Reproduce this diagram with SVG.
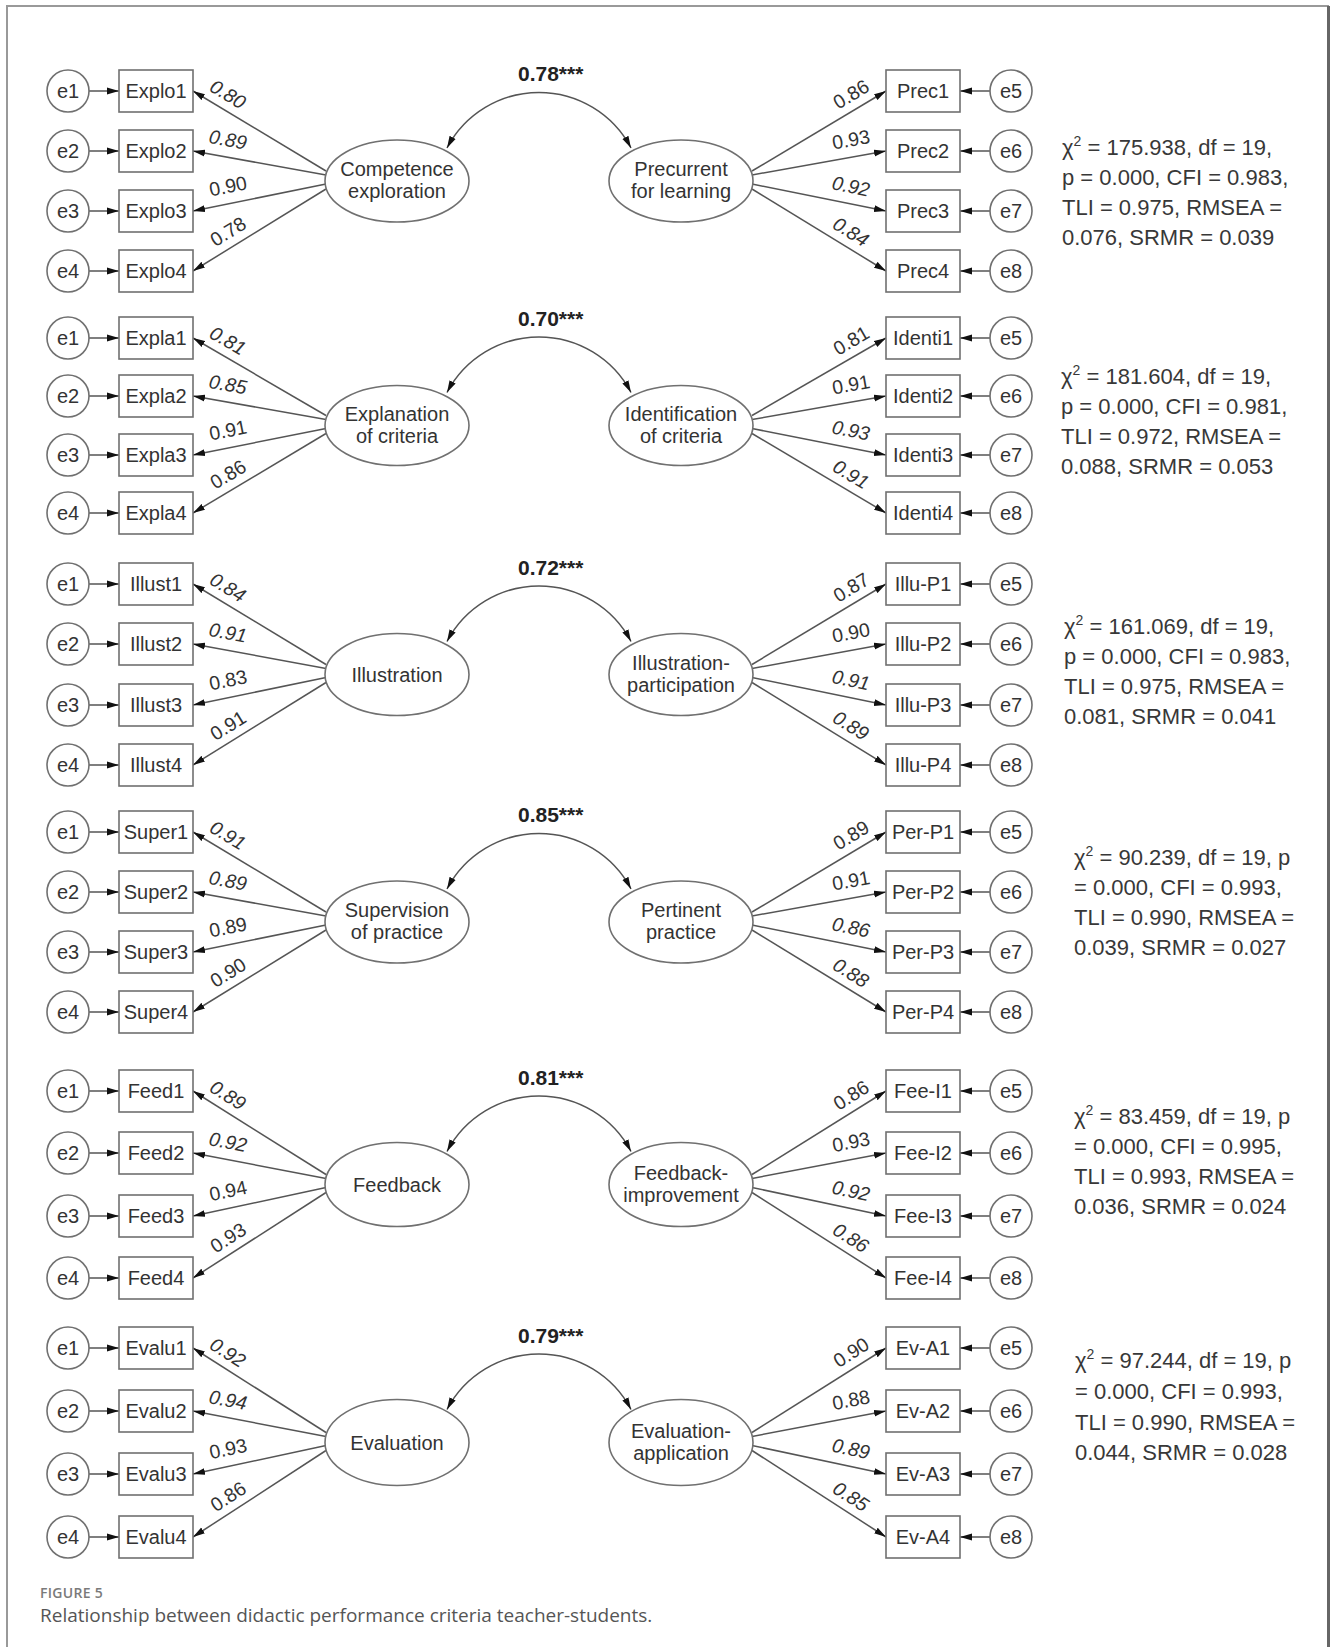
<svg xmlns="http://www.w3.org/2000/svg" width="1330" height="1647" viewBox="0 0 1330 1647">
  <defs>
    <style>
      .ec, .bx, .lat { fill: #ffffff; stroke: #707070; stroke-width: 1.6; }
      .t { font-family: "Liberation Sans", Arial, sans-serif; font-size: 20px; fill: #333333; text-anchor: middle; }
      .ld { font-family: "Liberation Sans", Arial, sans-serif; font-size: 19.5px; fill: #333333; text-anchor: middle; }
      .i { font-style: italic; }
      .corr { font-family: "Liberation Sans", Arial, sans-serif; font-size: 21px; font-weight: bold; fill: #222222; }
      .fit { font-family: "Liberation Sans", Arial, sans-serif; font-size: 22px; fill: #383838; }
      #connectors line, #connectors path { stroke: #555555; stroke-width: 1.5; fill: none; }
      .cap1 { font-family: "Open Sans", "Liberation Sans", sans-serif; font-size: 14px; font-weight: 600; fill: #7a7a7a; letter-spacing: 0.3px; }
      .cap2 { font-family: "Open Sans", "Liberation Sans", sans-serif; font-size: 19px; fill: #555555; }
    </style>
    <marker id="ah" viewBox="0 0 12 8" refX="12" refY="4" markerWidth="12" markerHeight="8" markerUnits="userSpaceOnUse" orient="auto">
      <path d="M0,0.6 L12,4 L0,7.4 Z" fill="#111111"/>
    </marker>
    <marker id="ah2" viewBox="0 0 12 8" refX="12" refY="4" markerWidth="12" markerHeight="8" markerUnits="userSpaceOnUse" orient="auto-start-reverse">
      <path d="M0,0.6 L12,4 L0,7.4 Z" fill="#111111"/>
    </marker>
  </defs>

  <rect width="1330" height="1647" fill="#ffffff"/>
  <!-- outer frame -->
  <path d="M7,1647 V6 H1329" fill="none" stroke="#999999" stroke-width="2"/>
  <line x1="1328.5" y1="6" x2="1328.5" y2="1647" stroke="#666666" stroke-width="3"/>

  <!-- ===== connectors ===== -->
  <g id="connectors" marker-end="url(#ah)">
    <!-- panel 1 -->
    <line x1="89" y1="91" x2="119" y2="91"/><line x1="89" y1="151" x2="119" y2="151"/><line x1="89" y1="211" x2="119" y2="211"/><line x1="89" y1="271" x2="119" y2="271"/>
    <line x1="990" y1="91" x2="960" y2="91"/><line x1="990" y1="151" x2="960" y2="151"/><line x1="990" y1="211" x2="960" y2="211"/><line x1="990" y1="271" x2="960" y2="271"/>
    <line x1="326" y1="171" x2="193" y2="91"/><line x1="326" y1="175" x2="193" y2="151"/><line x1="326" y1="184" x2="193" y2="211"/><line x1="326" y1="189" x2="193" y2="271"/>
    <line x1="752" y1="171" x2="886" y2="91"/><line x1="752" y1="175" x2="886" y2="151"/><line x1="752" y1="184" x2="886" y2="211"/><line x1="752" y1="189" x2="886" y2="271"/>
    <path d="M447,148 A104,104 0 0 1 631,148" marker-start="url(#ah2)" marker-end="url(#ah2)"/>
    <!-- panel 2 -->
    <line x1="89" y1="338" x2="119" y2="338"/><line x1="89" y1="396" x2="119" y2="396"/><line x1="89" y1="455" x2="119" y2="455"/><line x1="89" y1="513" x2="119" y2="513"/>
    <line x1="990" y1="338" x2="960" y2="338"/><line x1="990" y1="396" x2="960" y2="396"/><line x1="990" y1="455" x2="960" y2="455"/><line x1="990" y1="513" x2="960" y2="513"/>
    <line x1="326" y1="415.5" x2="193" y2="338"/><line x1="326" y1="419.5" x2="193" y2="396"/><line x1="326" y1="428.5" x2="193" y2="455"/><line x1="326" y1="433.5" x2="193" y2="513"/>
    <line x1="752" y1="415.5" x2="886" y2="338"/><line x1="752" y1="419.5" x2="886" y2="396"/><line x1="752" y1="428.5" x2="886" y2="455"/><line x1="752" y1="433.5" x2="886" y2="513"/>
    <path d="M447,392.5 A104,104 0 0 1 631,392.5" marker-start="url(#ah2)" marker-end="url(#ah2)"/>
    <!-- panel 3 -->
    <line x1="89" y1="584" x2="119" y2="584"/><line x1="89" y1="644" x2="119" y2="644"/><line x1="89" y1="705" x2="119" y2="705"/><line x1="89" y1="765" x2="119" y2="765"/>
    <line x1="990" y1="584" x2="960" y2="584"/><line x1="990" y1="644" x2="960" y2="644"/><line x1="990" y1="705" x2="960" y2="705"/><line x1="990" y1="765" x2="960" y2="765"/>
    <line x1="326" y1="664.5" x2="193" y2="584"/><line x1="326" y1="668.5" x2="193" y2="644"/><line x1="326" y1="677.5" x2="193" y2="705"/><line x1="326" y1="682.5" x2="193" y2="765"/>
    <line x1="752" y1="664.5" x2="886" y2="584"/><line x1="752" y1="668.5" x2="886" y2="644"/><line x1="752" y1="677.5" x2="886" y2="705"/><line x1="752" y1="682.5" x2="886" y2="765"/>
    <path d="M447,641.5 A104,104 0 0 1 631,641.5" marker-start="url(#ah2)" marker-end="url(#ah2)"/>
    <!-- panel 4 -->
    <line x1="89" y1="832" x2="119" y2="832"/><line x1="89" y1="892" x2="119" y2="892"/><line x1="89" y1="952" x2="119" y2="952"/><line x1="89" y1="1012" x2="119" y2="1012"/>
    <line x1="990" y1="832" x2="960" y2="832"/><line x1="990" y1="892" x2="960" y2="892"/><line x1="990" y1="952" x2="960" y2="952"/><line x1="990" y1="1012" x2="960" y2="1012"/>
    <line x1="326" y1="912" x2="193" y2="832"/><line x1="326" y1="916" x2="193" y2="892"/><line x1="326" y1="925" x2="193" y2="952"/><line x1="326" y1="930" x2="193" y2="1012"/>
    <line x1="752" y1="912" x2="886" y2="832"/><line x1="752" y1="916" x2="886" y2="892"/><line x1="752" y1="925" x2="886" y2="952"/><line x1="752" y1="930" x2="886" y2="1012"/>
    <path d="M447,889 A104,104 0 0 1 631,889" marker-start="url(#ah2)" marker-end="url(#ah2)"/>
    <!-- panel 5 -->
    <line x1="89" y1="1091" x2="119" y2="1091"/><line x1="89" y1="1153" x2="119" y2="1153"/><line x1="89" y1="1216" x2="119" y2="1216"/><line x1="89" y1="1278" x2="119" y2="1278"/>
    <line x1="990" y1="1091" x2="960" y2="1091"/><line x1="990" y1="1153" x2="960" y2="1153"/><line x1="990" y1="1216" x2="960" y2="1216"/><line x1="990" y1="1278" x2="960" y2="1278"/>
    <line x1="326" y1="1174.5" x2="193" y2="1091"/><line x1="326" y1="1178.5" x2="193" y2="1153"/><line x1="326" y1="1187.5" x2="193" y2="1216"/><line x1="326" y1="1192.5" x2="193" y2="1278"/>
    <line x1="752" y1="1174.5" x2="886" y2="1091"/><line x1="752" y1="1178.5" x2="886" y2="1153"/><line x1="752" y1="1187.5" x2="886" y2="1216"/><line x1="752" y1="1192.5" x2="886" y2="1278"/>
    <path d="M447,1151.5 A104,104 0 0 1 631,1151.5" marker-start="url(#ah2)" marker-end="url(#ah2)"/>
    <!-- panel 6 -->
    <line x1="89" y1="1348" x2="119" y2="1348"/><line x1="89" y1="1411" x2="119" y2="1411"/><line x1="89" y1="1474" x2="119" y2="1474"/><line x1="89" y1="1537" x2="119" y2="1537"/>
    <line x1="990" y1="1348" x2="960" y2="1348"/><line x1="990" y1="1411" x2="960" y2="1411"/><line x1="990" y1="1474" x2="960" y2="1474"/><line x1="990" y1="1537" x2="960" y2="1537"/>
    <line x1="326" y1="1432.5" x2="193" y2="1348"/><line x1="326" y1="1436.5" x2="193" y2="1411"/><line x1="326" y1="1445.5" x2="193" y2="1474"/><line x1="326" y1="1450.5" x2="193" y2="1537"/>
    <line x1="752" y1="1432.5" x2="886" y2="1348"/><line x1="752" y1="1436.5" x2="886" y2="1411"/><line x1="752" y1="1445.5" x2="886" y2="1474"/><line x1="752" y1="1450.5" x2="886" y2="1537"/>
    <path d="M447,1409.5 A104,104 0 0 1 631,1409.5" marker-start="url(#ah2)" marker-end="url(#ah2)"/>
  </g>

  <!-- ===== path coefficients and correlations ===== -->
  <g id="edge-labels">
    <!-- panel 1 -->
    <text class="corr" x="518" y="81">0.78***</text>
    <text class="ld i" transform="translate(228 94) rotate(31)" y="7">0.80</text>
    <text class="ld i" transform="translate(228 139.3) rotate(10.2)" y="7">0.89</text>
    <text class="ld" transform="translate(228 185.9) rotate(-11.5)" y="7">0.90</text>
    <text class="ld" transform="translate(228 231.4) rotate(-31.7)" y="7">0.78</text>
    <text class="ld" transform="translate(851 94) rotate(-31)" y="7">0.86</text>
    <text class="ld" transform="translate(851 139.3) rotate(-10.2)" y="7">0.93</text>
    <text class="ld i" transform="translate(851 185.9) rotate(11.5)" y="7">0.92</text>
    <text class="ld i" transform="translate(851 231.4) rotate(31.7)" y="7">0.84</text>
    <!-- panel 2 -->
    <text class="corr" x="518" y="325.5">0.70***</text>
    <text class="ld i" transform="translate(228 340.4) rotate(30.2)" y="7">0.81</text>
    <text class="ld i" transform="translate(228 384.2) rotate(10)" y="7">0.85</text>
    <text class="ld" transform="translate(228 430) rotate(-11.3)" y="7">0.91</text>
    <text class="ld" transform="translate(228 474.1) rotate(-30.9)" y="7">0.86</text>
    <text class="ld" transform="translate(851 340.4) rotate(-30.2)" y="7">0.81</text>
    <text class="ld" transform="translate(851 384.2) rotate(-10)" y="7">0.91</text>
    <text class="ld i" transform="translate(851 430) rotate(11.3)" y="7">0.93</text>
    <text class="ld i" transform="translate(851 474.1) rotate(30.9)" y="7">0.91</text>
    <!-- panel 3 -->
    <text class="corr" x="518" y="574.5">0.72***</text>
    <text class="ld i" transform="translate(228 587.2) rotate(31.2)" y="7">0.84</text>
    <text class="ld i" transform="translate(228 632.4) rotate(10.4)" y="7">0.91</text>
    <text class="ld" transform="translate(228 679.8) rotate(-11.7)" y="7">0.83</text>
    <text class="ld" transform="translate(228 725.3) rotate(-31.8)" y="7">0.91</text>
    <text class="ld" transform="translate(851 587.2) rotate(-31.2)" y="7">0.87</text>
    <text class="ld" transform="translate(851 632.4) rotate(-10.4)" y="7">0.90</text>
    <text class="ld i" transform="translate(851 679.8) rotate(11.7)" y="7">0.91</text>
    <text class="ld i" transform="translate(851 725.3) rotate(31.8)" y="7">0.89</text>
    <!-- panel 4 -->
    <text class="corr" x="518" y="822">0.85***</text>
    <text class="ld i" transform="translate(228 835) rotate(31)" y="7">0.91</text>
    <text class="ld i" transform="translate(228 880.3) rotate(10.2)" y="7">0.89</text>
    <text class="ld" transform="translate(228 926.9) rotate(-11.5)" y="7">0.89</text>
    <text class="ld" transform="translate(228 972.4) rotate(-31.7)" y="7">0.90</text>
    <text class="ld" transform="translate(851 835) rotate(-31)" y="7">0.89</text>
    <text class="ld" transform="translate(851 880.3) rotate(-10.2)" y="7">0.91</text>
    <text class="ld i" transform="translate(851 926.9) rotate(11.5)" y="7">0.86</text>
    <text class="ld i" transform="translate(851 972.4) rotate(31.7)" y="7">0.88</text>
    <!-- panel 5 -->
    <text class="corr" x="518" y="1084.5">0.81***</text>
    <text class="ld i" transform="translate(228 1095) rotate(32.1)" y="7">0.89</text>
    <text class="ld i" transform="translate(228 1141.7) rotate(10.9)" y="7">0.92</text>
    <text class="ld" transform="translate(228 1190.5) rotate(-12.1)" y="7">0.94</text>
    <text class="ld" transform="translate(228 1237.5) rotate(-32.7)" y="7">0.93</text>
    <text class="ld" transform="translate(851 1095) rotate(-32.1)" y="7">0.86</text>
    <text class="ld" transform="translate(851 1141.7) rotate(-10.9)" y="7">0.93</text>
    <text class="ld i" transform="translate(851 1190.5) rotate(12.1)" y="7">0.92</text>
    <text class="ld i" transform="translate(851 1237.5) rotate(32.7)" y="7">0.86</text>
    <!-- panel 6 -->
    <text class="corr" x="518" y="1342.5">0.79***</text>
    <text class="ld i" transform="translate(228 1352.2) rotate(32.4)" y="7">0.92</text>
    <text class="ld i" transform="translate(228 1399.7) rotate(10.9)" y="7">0.94</text>
    <text class="ld" transform="translate(228 1448.5) rotate(-12.1)" y="7">0.93</text>
    <text class="ld" transform="translate(228 1496.2) rotate(-33)" y="7">0.86</text>
    <text class="ld" transform="translate(851 1352.2) rotate(-32.4)" y="7">0.90</text>
    <text class="ld" transform="translate(851 1399.7) rotate(-10.9)" y="7">0.88</text>
    <text class="ld i" transform="translate(851 1448.5) rotate(12.1)" y="7">0.89</text>
    <text class="ld i" transform="translate(851 1496.2) rotate(33)" y="7">0.85</text>
  </g>

  <!-- ===== panel 1: Competence exploration / Precurrent for learning ===== -->
  <g id="p1-e1"><circle class="ec" cx="68" cy="91" r="21"/><text class="t" x="68" y="98">e1</text></g>
  <g id="p1-e2"><circle class="ec" cx="68" cy="151" r="21"/><text class="t" x="68" y="158">e2</text></g>
  <g id="p1-e3"><circle class="ec" cx="68" cy="211" r="21"/><text class="t" x="68" y="218">e3</text></g>
  <g id="p1-e4"><circle class="ec" cx="68" cy="271" r="21"/><text class="t" x="68" y="278">e4</text></g>
  <g id="p1-explo1"><rect class="bx" x="119" y="70" width="74" height="42"/><text class="t" x="156" y="98">Explo1</text></g>
  <g id="p1-explo2"><rect class="bx" x="119" y="130" width="74" height="42"/><text class="t" x="156" y="158">Explo2</text></g>
  <g id="p1-explo3"><rect class="bx" x="119" y="190" width="74" height="42"/><text class="t" x="156" y="218">Explo3</text></g>
  <g id="p1-explo4"><rect class="bx" x="119" y="250" width="74" height="42"/><text class="t" x="156" y="278">Explo4</text></g>
  <g id="p1-competence"><ellipse class="lat" cx="397" cy="181" rx="72" ry="41"/><text class="t" x="397" y="176">Competence</text><text class="t" x="397" y="198">exploration</text></g>
  <g id="p1-precurrent"><ellipse class="lat" cx="681" cy="181" rx="72" ry="41"/><text class="t" x="681" y="176">Precurrent</text><text class="t" x="681" y="198">for learning</text></g>
  <g id="p1-prec1"><rect class="bx" x="886" y="70" width="74" height="42"/><text class="t" x="923" y="98">Prec1</text></g>
  <g id="p1-prec2"><rect class="bx" x="886" y="130" width="74" height="42"/><text class="t" x="923" y="158">Prec2</text></g>
  <g id="p1-prec3"><rect class="bx" x="886" y="190" width="74" height="42"/><text class="t" x="923" y="218">Prec3</text></g>
  <g id="p1-prec4"><rect class="bx" x="886" y="250" width="74" height="42"/><text class="t" x="923" y="278">Prec4</text></g>
  <g id="p1-e5"><circle class="ec" cx="1011" cy="91" r="21"/><text class="t" x="1011" y="98">e5</text></g>
  <g id="p1-e6"><circle class="ec" cx="1011" cy="151" r="21"/><text class="t" x="1011" y="158">e6</text></g>
  <g id="p1-e7"><circle class="ec" cx="1011" cy="211" r="21"/><text class="t" x="1011" y="218">e7</text></g>
  <g id="p1-e8"><circle class="ec" cx="1011" cy="271" r="21"/><text class="t" x="1011" y="278">e8</text></g>
  <g id="p1-fit" class="fit">
    <text x="1062" y="155">χ<tspan font-size="14" dy="-9">2</tspan><tspan dy="9"> = 175.938, df = 19,</tspan></text>
    <text x="1062" y="185">p = 0.000, CFI = 0.983,</text>
    <text x="1062" y="215">TLI = 0.975, RMSEA =</text>
    <text x="1062" y="245">0.076, SRMR = 0.039</text>
  </g>

  <!-- ===== panel 2: Explanation of criteria / Identification of criteria ===== -->
  <g id="p2-e1"><circle class="ec" cx="68" cy="338" r="21"/><text class="t" x="68" y="345">e1</text></g>
  <g id="p2-e2"><circle class="ec" cx="68" cy="396" r="21"/><text class="t" x="68" y="403">e2</text></g>
  <g id="p2-e3"><circle class="ec" cx="68" cy="455" r="21"/><text class="t" x="68" y="462">e3</text></g>
  <g id="p2-e4"><circle class="ec" cx="68" cy="513" r="21"/><text class="t" x="68" y="520">e4</text></g>
  <g id="p2-expla1"><rect class="bx" x="119" y="317" width="74" height="42"/><text class="t" x="156" y="345">Expla1</text></g>
  <g id="p2-expla2"><rect class="bx" x="119" y="375" width="74" height="42"/><text class="t" x="156" y="403">Expla2</text></g>
  <g id="p2-expla3"><rect class="bx" x="119" y="434" width="74" height="42"/><text class="t" x="156" y="462">Expla3</text></g>
  <g id="p2-expla4"><rect class="bx" x="119" y="492" width="74" height="42"/><text class="t" x="156" y="520">Expla4</text></g>
  <g id="p2-explanation"><ellipse class="lat" cx="397" cy="425.5" rx="72" ry="40"/><text class="t" x="397" y="420.5">Explanation</text><text class="t" x="397" y="442.5">of criteria</text></g>
  <g id="p2-identification"><ellipse class="lat" cx="681" cy="425.5" rx="72" ry="40"/><text class="t" x="681" y="420.5">Identification</text><text class="t" x="681" y="442.5">of criteria</text></g>
  <g id="p2-identi1"><rect class="bx" x="886" y="317" width="74" height="42"/><text class="t" x="923" y="345">Identi1</text></g>
  <g id="p2-identi2"><rect class="bx" x="886" y="375" width="74" height="42"/><text class="t" x="923" y="403">Identi2</text></g>
  <g id="p2-identi3"><rect class="bx" x="886" y="434" width="74" height="42"/><text class="t" x="923" y="462">Identi3</text></g>
  <g id="p2-identi4"><rect class="bx" x="886" y="492" width="74" height="42"/><text class="t" x="923" y="520">Identi4</text></g>
  <g id="p2-e5"><circle class="ec" cx="1011" cy="338" r="21"/><text class="t" x="1011" y="345">e5</text></g>
  <g id="p2-e6"><circle class="ec" cx="1011" cy="396" r="21"/><text class="t" x="1011" y="403">e6</text></g>
  <g id="p2-e7"><circle class="ec" cx="1011" cy="455" r="21"/><text class="t" x="1011" y="462">e7</text></g>
  <g id="p2-e8"><circle class="ec" cx="1011" cy="513" r="21"/><text class="t" x="1011" y="520">e8</text></g>
  <g id="p2-fit" class="fit">
    <text x="1061" y="384">χ<tspan font-size="14" dy="-9">2</tspan><tspan dy="9"> = 181.604, df = 19,</tspan></text>
    <text x="1061" y="414">p = 0.000, CFI = 0.981,</text>
    <text x="1061" y="444">TLI = 0.972, RMSEA =</text>
    <text x="1061" y="474">0.088, SRMR = 0.053</text>
  </g>

  <!-- ===== panel 3: Illustration / Illustration-participation ===== -->
  <g id="p3-e1"><circle class="ec" cx="68" cy="584" r="21"/><text class="t" x="68" y="591">e1</text></g>
  <g id="p3-e2"><circle class="ec" cx="68" cy="644" r="21"/><text class="t" x="68" y="651">e2</text></g>
  <g id="p3-e3"><circle class="ec" cx="68" cy="705" r="21"/><text class="t" x="68" y="712">e3</text></g>
  <g id="p3-e4"><circle class="ec" cx="68" cy="765" r="21"/><text class="t" x="68" y="772">e4</text></g>
  <g id="p3-illust1"><rect class="bx" x="119" y="563" width="74" height="42"/><text class="t" x="156" y="591">Illust1</text></g>
  <g id="p3-illust2"><rect class="bx" x="119" y="623" width="74" height="42"/><text class="t" x="156" y="651">Illust2</text></g>
  <g id="p3-illust3"><rect class="bx" x="119" y="684" width="74" height="42"/><text class="t" x="156" y="712">Illust3</text></g>
  <g id="p3-illust4"><rect class="bx" x="119" y="744" width="74" height="42"/><text class="t" x="156" y="772">Illust4</text></g>
  <g id="p3-illustration"><ellipse class="lat" cx="397" cy="674.5" rx="72" ry="41"/><text class="t" x="397" y="681.5">Illustration</text></g>
  <g id="p3-illustration-participation"><ellipse class="lat" cx="681" cy="674.5" rx="72" ry="41"/><text class="t" x="681" y="669.5">Illustration-</text><text class="t" x="681" y="691.5">participation</text></g>
  <g id="p3-illup1"><rect class="bx" x="886" y="563" width="74" height="42"/><text class="t" x="923" y="591">Illu-P1</text></g>
  <g id="p3-illup2"><rect class="bx" x="886" y="623" width="74" height="42"/><text class="t" x="923" y="651">Illu-P2</text></g>
  <g id="p3-illup3"><rect class="bx" x="886" y="684" width="74" height="42"/><text class="t" x="923" y="712">Illu-P3</text></g>
  <g id="p3-illup4"><rect class="bx" x="886" y="744" width="74" height="42"/><text class="t" x="923" y="772">Illu-P4</text></g>
  <g id="p3-e5"><circle class="ec" cx="1011" cy="584" r="21"/><text class="t" x="1011" y="591">e5</text></g>
  <g id="p3-e6"><circle class="ec" cx="1011" cy="644" r="21"/><text class="t" x="1011" y="651">e6</text></g>
  <g id="p3-e7"><circle class="ec" cx="1011" cy="705" r="21"/><text class="t" x="1011" y="712">e7</text></g>
  <g id="p3-e8"><circle class="ec" cx="1011" cy="765" r="21"/><text class="t" x="1011" y="772">e8</text></g>
  <g id="p3-fit" class="fit">
    <text x="1064" y="634">χ<tspan font-size="14" dy="-9">2</tspan><tspan dy="9"> = 161.069, df = 19,</tspan></text>
    <text x="1064" y="664">p = 0.000, CFI = 0.983,</text>
    <text x="1064" y="694">TLI = 0.975, RMSEA =</text>
    <text x="1064" y="724">0.081, SRMR = 0.041</text>
  </g>

  <!-- ===== panel 4: Supervision of practice / Pertinent practice ===== -->
  <g id="p4-e1"><circle class="ec" cx="68" cy="832" r="21"/><text class="t" x="68" y="839">e1</text></g>
  <g id="p4-e2"><circle class="ec" cx="68" cy="892" r="21"/><text class="t" x="68" y="899">e2</text></g>
  <g id="p4-e3"><circle class="ec" cx="68" cy="952" r="21"/><text class="t" x="68" y="959">e3</text></g>
  <g id="p4-e4"><circle class="ec" cx="68" cy="1012" r="21"/><text class="t" x="68" y="1019">e4</text></g>
  <g id="p4-super1"><rect class="bx" x="119" y="811" width="74" height="42"/><text class="t" x="156" y="839">Super1</text></g>
  <g id="p4-super2"><rect class="bx" x="119" y="871" width="74" height="42"/><text class="t" x="156" y="899">Super2</text></g>
  <g id="p4-super3"><rect class="bx" x="119" y="931" width="74" height="42"/><text class="t" x="156" y="959">Super3</text></g>
  <g id="p4-super4"><rect class="bx" x="119" y="991" width="74" height="42"/><text class="t" x="156" y="1019">Super4</text></g>
  <g id="p4-supervision"><ellipse class="lat" cx="397" cy="922" rx="72" ry="41"/><text class="t" x="397" y="917">Supervision</text><text class="t" x="397" y="939">of practice</text></g>
  <g id="p4-pertinent"><ellipse class="lat" cx="681" cy="922" rx="72" ry="41"/><text class="t" x="681" y="917">Pertinent</text><text class="t" x="681" y="939">practice</text></g>
  <g id="p4-perp1"><rect class="bx" x="886" y="811" width="74" height="42"/><text class="t" x="923" y="839">Per-P1</text></g>
  <g id="p4-perp2"><rect class="bx" x="886" y="871" width="74" height="42"/><text class="t" x="923" y="899">Per-P2</text></g>
  <g id="p4-perp3"><rect class="bx" x="886" y="931" width="74" height="42"/><text class="t" x="923" y="959">Per-P3</text></g>
  <g id="p4-perp4"><rect class="bx" x="886" y="991" width="74" height="42"/><text class="t" x="923" y="1019">Per-P4</text></g>
  <g id="p4-e5"><circle class="ec" cx="1011" cy="832" r="21"/><text class="t" x="1011" y="839">e5</text></g>
  <g id="p4-e6"><circle class="ec" cx="1011" cy="892" r="21"/><text class="t" x="1011" y="899">e6</text></g>
  <g id="p4-e7"><circle class="ec" cx="1011" cy="952" r="21"/><text class="t" x="1011" y="959">e7</text></g>
  <g id="p4-e8"><circle class="ec" cx="1011" cy="1012" r="21"/><text class="t" x="1011" y="1019">e8</text></g>
  <g id="p4-fit" class="fit">
    <text x="1074" y="865">χ<tspan font-size="14" dy="-9">2</tspan><tspan dy="9"> = 90.239, df = 19, p</tspan></text>
    <text x="1074" y="895">= 0.000, CFI = 0.993,</text>
    <text x="1074" y="925">TLI = 0.990, RMSEA =</text>
    <text x="1074" y="955">0.039, SRMR = 0.027</text>
  </g>

  <!-- ===== panel 5: Feedback / Feedback-improvement ===== -->
  <g id="p5-e1"><circle class="ec" cx="68" cy="1091" r="21"/><text class="t" x="68" y="1098">e1</text></g>
  <g id="p5-e2"><circle class="ec" cx="68" cy="1153" r="21"/><text class="t" x="68" y="1160">e2</text></g>
  <g id="p5-e3"><circle class="ec" cx="68" cy="1216" r="21"/><text class="t" x="68" y="1223">e3</text></g>
  <g id="p5-e4"><circle class="ec" cx="68" cy="1278" r="21"/><text class="t" x="68" y="1285">e4</text></g>
  <g id="p5-feed1"><rect class="bx" x="119" y="1070" width="74" height="42"/><text class="t" x="156" y="1098">Feed1</text></g>
  <g id="p5-feed2"><rect class="bx" x="119" y="1132" width="74" height="42"/><text class="t" x="156" y="1160">Feed2</text></g>
  <g id="p5-feed3"><rect class="bx" x="119" y="1195" width="74" height="42"/><text class="t" x="156" y="1223">Feed3</text></g>
  <g id="p5-feed4"><rect class="bx" x="119" y="1257" width="74" height="42"/><text class="t" x="156" y="1285">Feed4</text></g>
  <g id="p5-feedback"><ellipse class="lat" cx="397" cy="1184.5" rx="72" ry="42"/><text class="t" x="397" y="1191.5">Feedback</text></g>
  <g id="p5-feedback-improvement"><ellipse class="lat" cx="681" cy="1184.5" rx="72" ry="42"/><text class="t" x="681" y="1179.5">Feedback-</text><text class="t" x="681" y="1201.5">improvement</text></g>
  <g id="p5-feei1"><rect class="bx" x="886" y="1070" width="74" height="42"/><text class="t" x="923" y="1098">Fee-I1</text></g>
  <g id="p5-feei2"><rect class="bx" x="886" y="1132" width="74" height="42"/><text class="t" x="923" y="1160">Fee-I2</text></g>
  <g id="p5-feei3"><rect class="bx" x="886" y="1195" width="74" height="42"/><text class="t" x="923" y="1223">Fee-I3</text></g>
  <g id="p5-feei4"><rect class="bx" x="886" y="1257" width="74" height="42"/><text class="t" x="923" y="1285">Fee-I4</text></g>
  <g id="p5-e5"><circle class="ec" cx="1011" cy="1091" r="21"/><text class="t" x="1011" y="1098">e5</text></g>
  <g id="p5-e6"><circle class="ec" cx="1011" cy="1153" r="21"/><text class="t" x="1011" y="1160">e6</text></g>
  <g id="p5-e7"><circle class="ec" cx="1011" cy="1216" r="21"/><text class="t" x="1011" y="1223">e7</text></g>
  <g id="p5-e8"><circle class="ec" cx="1011" cy="1278" r="21"/><text class="t" x="1011" y="1285">e8</text></g>
  <g id="p5-fit" class="fit">
    <text x="1074" y="1124">χ<tspan font-size="14" dy="-9">2</tspan><tspan dy="9"> = 83.459, df = 19, p</tspan></text>
    <text x="1074" y="1154">= 0.000, CFI = 0.995,</text>
    <text x="1074" y="1184">TLI = 0.993, RMSEA =</text>
    <text x="1074" y="1214">0.036, SRMR = 0.024</text>
  </g>

  <!-- ===== panel 6: Evaluation / Evaluation-application ===== -->
  <g id="p6-e1"><circle class="ec" cx="68" cy="1348" r="21"/><text class="t" x="68" y="1355">e1</text></g>
  <g id="p6-e2"><circle class="ec" cx="68" cy="1411" r="21"/><text class="t" x="68" y="1418">e2</text></g>
  <g id="p6-e3"><circle class="ec" cx="68" cy="1474" r="21"/><text class="t" x="68" y="1481">e3</text></g>
  <g id="p6-e4"><circle class="ec" cx="68" cy="1537" r="21"/><text class="t" x="68" y="1544">e4</text></g>
  <g id="p6-evalu1"><rect class="bx" x="119" y="1327" width="74" height="42"/><text class="t" x="156" y="1355">Evalu1</text></g>
  <g id="p6-evalu2"><rect class="bx" x="119" y="1390" width="74" height="42"/><text class="t" x="156" y="1418">Evalu2</text></g>
  <g id="p6-evalu3"><rect class="bx" x="119" y="1453" width="74" height="42"/><text class="t" x="156" y="1481">Evalu3</text></g>
  <g id="p6-evalu4"><rect class="bx" x="119" y="1516" width="74" height="42"/><text class="t" x="156" y="1544">Evalu4</text></g>
  <g id="p6-evaluation"><ellipse class="lat" cx="397" cy="1442.5" rx="72" ry="43"/><text class="t" x="397" y="1449.5">Evaluation</text></g>
  <g id="p6-evaluation-application"><ellipse class="lat" cx="681" cy="1442.5" rx="72" ry="43"/><text class="t" x="681" y="1437.5">Evaluation-</text><text class="t" x="681" y="1459.5">application</text></g>
  <g id="p6-eva1"><rect class="bx" x="886" y="1327" width="74" height="42"/><text class="t" x="923" y="1355">Ev-A1</text></g>
  <g id="p6-eva2"><rect class="bx" x="886" y="1390" width="74" height="42"/><text class="t" x="923" y="1418">Ev-A2</text></g>
  <g id="p6-eva3"><rect class="bx" x="886" y="1453" width="74" height="42"/><text class="t" x="923" y="1481">Ev-A3</text></g>
  <g id="p6-eva4"><rect class="bx" x="886" y="1516" width="74" height="42"/><text class="t" x="923" y="1544">Ev-A4</text></g>
  <g id="p6-e5"><circle class="ec" cx="1011" cy="1348" r="21"/><text class="t" x="1011" y="1355">e5</text></g>
  <g id="p6-e6"><circle class="ec" cx="1011" cy="1411" r="21"/><text class="t" x="1011" y="1418">e6</text></g>
  <g id="p6-e7"><circle class="ec" cx="1011" cy="1474" r="21"/><text class="t" x="1011" y="1481">e7</text></g>
  <g id="p6-e8"><circle class="ec" cx="1011" cy="1537" r="21"/><text class="t" x="1011" y="1544">e8</text></g>
  <g id="p6-fit" class="fit">
    <text x="1075" y="1368">χ<tspan font-size="14" dy="-9">2</tspan><tspan dy="9"> = 97.244, df = 19, p</tspan></text>
    <text x="1075" y="1399">= 0.000, CFI = 0.993,</text>
    <text x="1075" y="1430">TLI = 0.990, RMSEA =</text>
    <text x="1075" y="1460">0.044, SRMR = 0.028</text>
  </g>

  <!-- caption -->
  <g id="caption">
    <text class="cap1" x="40" y="1598">FIGURE 5</text>
    <text class="cap2" x="40" y="1622">Relationship between didactic performance criteria teacher-students.</text>
  </g>
</svg>
